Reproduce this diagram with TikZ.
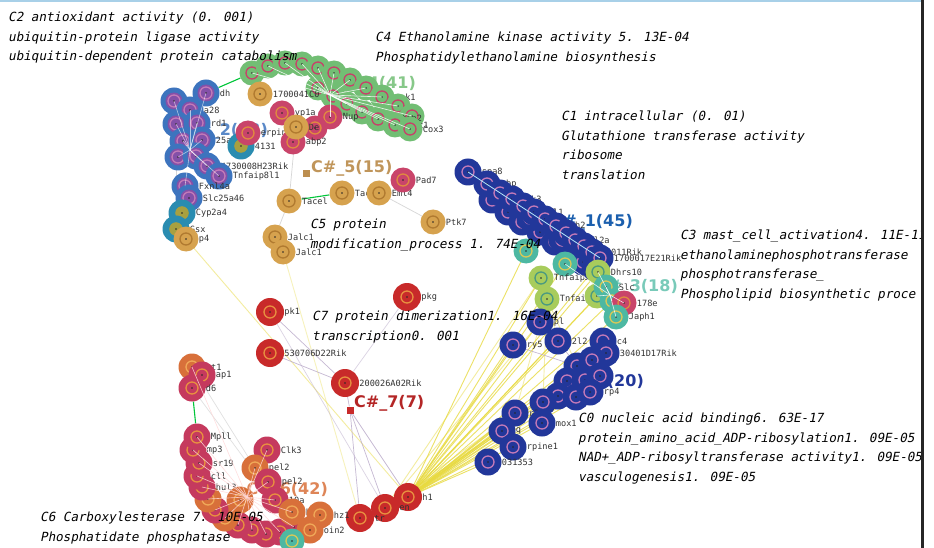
\documentclass[tikz,border=0pt]{standalone}
\usepackage{fontspec}
\setsansfont{DejaVu Sans}
\newfontfamily\annotfont[FakeSlant=0.2]{DejaVu Sans Mono}
\newfontfamily\genefont{DejaVu Sans Mono}

\definecolor{navyA}{HTML}{22379A}
\definecolor{pinkR}{HTML}{C47AB8}
\definecolor{blueB}{HTML}{3D74BE}
\definecolor{purpleB}{HTML}{8450A8}
\definecolor{tealB}{HTML}{2A8CB0}
\definecolor{oliveC}{HTML}{A8A040}
\definecolor{greenG}{HTML}{72BE74}
\definecolor{greenL}{HTML}{9AD09A}
\definecolor{redG}{HTML}{C8406A}
\definecolor{goldO}{HTML}{D6A24E}
\definecolor{goldD}{HTML}{B07A30}
\definecolor{pinkK}{HTML}{C9446A}
\definecolor{orangeO}{HTML}{E08A40}
\definecolor{tealT}{HTML}{4DB8A2}
\definecolor{yellowT}{HTML}{D8C858}
\definecolor{yellowG}{HTML}{A8CC5C}
\definecolor{tealD}{HTML}{4A9A80}
\definecolor{redR}{HTML}{C82A2A}
\definecolor{orangeR}{HTML}{E89040}
\definecolor{magM}{HTML}{C53A5E}
\definecolor{orangeM}{HTML}{D8703A}
\definecolor{goldL}{HTML}{F0A858}
\definecolor{fanY}{HTML}{E8DA40}
\definecolor{topblue}{HTML}{A8D0E8}
\definecolor{linkgray}{HTML}{B8A8C8}

\pgfdeclarelayer{paper}
\pgfdeclarelayer{tags}
\pgfdeclarelayer{links}
\pgfdeclarelayer{front}
\pgfsetlayers{paper,tags,links,main,front}

% gene node with a centred core, a ring and a black dot
\tikzset{
  ringed/.style n args={3}{path picture={
      \fill[#1] (path picture bounding box.center) circle (#3);
      \draw[#2, line width=1.3pt] (path picture bounding box.center) circle (6pt);
      \fill[black!85] (path picture bounding box.center) circle (0.9pt);}},
  gene/.style={circle, inner sep=0pt, minimum size=25pt, label distance=-9pt},
  every label/.style={font=\genefont\fontsize{8.6}{9}\selectfont, text=black!80, inner sep=0pt},
  cA/.style={gene, minimum size=27pt, fill=navyA, ringed={navyA}{pinkR}{0pt}},
  cB/.style={gene, minimum size=27pt, fill=blueB, ringed={purpleB}{pinkR}{8.5pt}},
  cBT/.style={gene, minimum size=27pt, fill=tealB, ringed={oliveC}{oliveC}{6.5pt}},
  cG/.style={gene, fill=greenG, ringed={greenL}{redG}{0pt}},
  cO/.style={gene, fill=goldO, ringed={goldO}{goldD}{0pt}},
  cPk/.style={gene, fill=pinkK, ringed={pinkK}{orangeO}{0pt}},
  cT/.style={gene, fill=tealT, ringed={tealT}{yellowT}{0pt}},
  cY/.style={gene, fill=yellowG, ringed={yellowG}{tealD}{0pt}},
  cR/.style={gene, minimum size=28pt, fill=redR, ringed={redR}{orangeR}{0pt}},
  cM/.style={gene, minimum size=27pt, fill=magM, ringed={magM}{orangeR}{0pt}},
  cMO/.style={gene, minimum size=27pt, fill=orangeM, ringed={orangeM}{goldL}{0pt}},
  ctag/.style={font=\sffamily\bfseries\fontsize{16}{16}\selectfont, inner sep=0pt},
  sqmark/.style={rectangle, minimum size=7pt, inner sep=0pt},
  annot/.style={font=\annotfont\fontsize{12.6}{19.5}\selectfont, align=left,
                anchor=north west, inner sep=0pt, text=black},
  fan/.style={fanY, line width=0.9pt, opacity=0.8},
  thin/.style={linkgray, line width=0.7pt, opacity=0.8},
  greenlink/.style={green!55!teal, line width=1.1pt},
  spoke/.style={white, line width=0.6pt, opacity=0.85},
}

\newcommand\gn[3]{\node[#1] (#2) at (#3) {};}
\newcommand\gl[4]{\node[#1, label={0:#4}] (#2) at (#3) {};}

\begin{document}
\begin{tikzpicture}[x=1pt, y=-1pt]
\useasboundingbox (0,0) rectangle (934,548);
\begin{pgfonlayer}{paper}
\fill[white] (0,0) rectangle (934,548);
\fill[topblue] (0,0) rectangle (934,2);
\end{pgfonlayer}

% ---------- cluster tags (behind the genes) ----------
\begin{pgfonlayer}{tags}
\node[ctag, text=blueB!85!white, anchor=east] (tag2) at (268,131) {C\#\_2(23)};
\node[ctag, text=greenG!85!white, anchor=east] (tag4) at (416,84) {C\#\_4(41)};
\node[ctag, text=goldD!80!white, anchor=west] (tag5) at (311,168) {C\#\_5(15)};
\node[ctag, text=navyA!80!cyan, anchor=east] (tag1) at (633,222) {C\#\_1(45)};
\node[ctag, text=tealT!75!white, anchor=east] (tag3) at (678,287) {C\#\_3(18)};
\node[ctag, text=navyA, anchor=east] (tag0) at (644,382) {C\#\_0(20)};
\node[ctag, text=redR!90!black, anchor=west] (tag7) at (354,403) {C\#\_7(7)};
\node[ctag, text=orangeM!85!white, anchor=east] (tag6) at (328,490) {C\#\_6(42)};
\end{pgfonlayer}

% ---------- C2 ----------
\gn{cB}{b1}{174,101}
\gl{cB}{b2}{206,93}{dh}
\gl{cB}{b3}{190,110}{a28}
\gn{cB}{b4}{176,124}
\gl{cB}{b5}{197,123}{rd1}
\gn{cB}{b6}{183,141}
\gl{cB}{b7}{202,140}{25a4c}
\gn{cB}{b8}{178,157}
\gn{cB}{b9}{196,156}
\gl{cB}{b10}{207,166}{4730008H23Rik}
\gl{cB}{b11}{219,176}{Tnfaip8l1}
\gl{cBT}{b12}{241,146}{4131}
\gl{cB}{b13}{185,186}{Fxnl4a}
\gl{cB}{b14}{189,198}{Slc25a46}
\gl{cBT}{b15}{182,213}{Cyp2a4}
\gl{cBT}{b16}{176,229}{Gsx}
\gl{cO}{b17}{186,239}{p4}

% ---------- C4 ----------
\gn{cG}{g1}{252,73}
\gn{cG}{g2}{268,66}
\gn{cG}{g3}{285,63}
\gn{cG}{g4}{302,64}
\gn{cG}{g5}{318,68}
\gn{cG}{g6}{334,73}
\gn{cG}{g7}{350,80}
\gn{cG}{g8}{366,88}
\gl{cG}{g9}{382,97}{ank1}
\gn{cG}{g10}{398,106}
\gn{cG}{g11}{412,116}
\gn{cG}{g12}{318,88}
\gn{cG}{g13}{333,96}
\gn{cG}{g14}{347,104}
\gn{cG}{g15}{362,112}
\gl{cG}{g16}{378,119}{Tatip2}
\gl{cG}{g17}{395,125}{Dbc1}
\gl{cG}{g18}{410,129}{Cox3}
\gl{cPk}{g19}{330,117}{Nup}
\gn{cPk}{g20}{315,128}
\gl{cPk}{g21}{248,133}{erpina6}
\gl{cPk}{g22}{282,113}{yp1a}
\gl{cPk}{g23}{293,142}{abp2}

% ---------- C5 ----------
\gl{cO}{o1}{260,94}{1700041C0}
\gl{cO}{o2}{296,127}{De}
\gl{cO}{o3}{289,201}{Tacel}
\gl{cO}{o4}{342,193}{Tacel}
\gl{cO}{o5}{379,193}{Eml4}
\gl{cPk}{o6}{403,180}{Pad7}
\gl{cO}{o7}{433,222}{Ptk7}
\gl{cO}{o8}{275,237}{Jalc1}
\gl{cO}{o9}{283,252}{Jalc1}
\node[sqmark, fill=goldD!85!white] (sq5) at (306,174) {};

% ---------- C1 ----------
\gn{cA}{a14}{508,212}
\gn{cA}{a15}{522,222}
\gn{cA}{a16}{540,232}
\gn{cA}{a17}{555,242}
\gn{cA}{a18}{570,252}
\gn{cA}{a19}{583,262}
\gn{cA}{a20}{595,268}
\gn{cA}{a21}{492,200}
\gn{cA}{a22}{530,218}
\gn{cA}{a23}{562,240}
\gl{cA}{a1}{468,172}{spa8}
\gl{cA}{a2}{487,184}{gbp}
\gn{cA}{a3}{500,193}
\gl{cA}{a4}{512,199}{kk3}
\gn{cA}{a5}{523,206}
\gl{cA}{a6}{534,212}{hl1}
\gn{cA}{a7}{545,219}
\gl{cA}{a8}{556,226}{ph2}
\gn{cA}{a9}{566,233}
\gl{cA}{a10}{575,240}{al2a}
\gn{cA}{a11}{584,246}
\gl{cA}{a12}{592,252}{0011Rik}
\gl{cA}{a13}{600,258}{1700017E21Rik}

% ---------- C3 ----------
\gn{cT}{t1}{526,251}
\gn{cT}{t2}{565,264}
\gl{cY}{y1}{541,278}{Tnfaip2}
\gl{cY}{y2}{547,299}{Tnfaip2}
\gl{cY}{t3}{598,272}{Dhrs10}
\gn{cY}{y3}{597,296}
\gl{cT}{t4}{606,287}{Slc}
\gn{cT}{t5}{612,301}
\gl{cPk}{t7}{624,303}{178e}
\gl{cT}{t6}{616,317}{Japh1}

% ---------- C0 ----------
\gl{cA}{n1}{540,322}{pl}
\gl{cA}{n2}{513,345}{ry5}
\gl{cA}{n3}{558,341}{2l2}
\gl{cA}{n4}{603,341}{c4}
\gl{cA}{n5}{606,353}{30401D17Rik}
\gn{cA}{n6}{577,366}
\gn{cA}{n7}{592,360}
\gn{cA}{n8}{567,381}
\gn{cA}{n9}{585,380}
\gn{cA}{n10}{600,376}
\gn{cA}{n11}{558,396}
\gn{cA}{n12}{543,402}
\gn{cA}{n13}{576,397}
\gl{cA}{n14}{590,392}{rp4}
\gl{cA}{n15}{515,413}{r3}
\gl{cA}{n16}{542,423}{mox1}
\gl{cA}{n17}{502,431}{q}
\gl{cA}{n18}{513,447}{rpine1}
\gl{cA}{n19}{488,462}{031353}

% ---------- C7 ----------
\gl{cR}{r1}{270,312}{pk1}
\gl{cR}{r2}{407,297}{pkg}
\gl{cR}{r3}{270,353}{530706D22Rik}
\gl{cR}{r4}{345,383}{200026A02Rik}
\node[sqmark, fill=redR] (sq7) at (350,410) {};
\gl{cR}{r5}{408,497}{h1}
\gl{cR}{r6}{385,508}{en}
\gl{cR}{r7}{360,518}{tr}

% ---------- C6 ----------
\gl{cMO}{m1}{192,367}{ot1}
\gl{cM}{m2}{202,375}{ap1}
\gl{cM}{m3}{192,388}{d6}
\gn{cM}{m16}{294,527}
\gn{cM}{m15}{280,532}
\gn{cM}{m14}{266,534}
\gn{cM}{m13}{252,530}
\gn{cM}{m12}{238,525}
\gn{cMO}{m11}{225,518}
\gn{cM}{m10}{215,510}
\gn{cMO}{m9}{208,499}
\gl{cM}{m8}{202,487}{hul3}
\gl{cM}{m7}{197,476}{cll}
\gl{cM}{m6}{199,463}{sr19}
\gl{cM}{m5}{193,450}{mp3}
\gl{cM}{m4}{197,437}{Mpll}
\gl{cM}{m17}{267,450}{Clk3}
\gl{cMO}{m18}{255,468}{pel2}
\gl{cM}{m19}{268,482}{pel2}
\gn{cMO}{m24}{240,500}
\gl{cM}{m20}{275,500}{10a}
\gl{cMO}{m25}{292,512}{hr3}
\gl{cMO}{m21}{320,515}{hz1}
\gl{cMO}{m22}{310,530}{oin2}
\gn{cT}{m23}{292,541}

% ---------- links ----------
\begin{pgfonlayer}{links}
\foreach \x in {n1,n2,n3,n4,n5,n6,n7,n8,n9,n10,n11,n12,n13,n14,n15,n16,n17,n18,n19,t1,t2,y1,y2,y3,t3,t4,t5,t6,a20}
  \draw[fan] (r5.center) -- (\x.center);
\foreach \x in {n12,n15,n17,y1,n1}
  \draw[fan, opacity=0.5] (r6.center) -- (\x.center);
\foreach \x in {n1,n3,n6,n15,n16}
  \draw[fan, opacity=0.45] (y2.center) -- (\x.center);
\draw[fan, opacity=0.5] (b17.center) -- (r5.center);
\draw[fan, opacity=0.35] (o9.center) -- (r7.center);
\draw[thin] (r1) -- (r4);
\draw[thin] (r3) -- (r4);
\draw[thin, opacity=0.5] (r2) -- (r4);
\draw[thin] (r4) -- (sq7);
\draw[thin] (sq7) -- (r5);
\draw[thin] (sq7) -- (r6);
\draw[thin] (sq7) -- (r7);
\draw[thin, opacity=0.5] (r1) -- (r6);
\draw[thin] (n2) -- (n6);
\draw[thin] (n3) -- (n6);
\draw[thin, black!20] (o8) -- (o3);
\draw[thin, black!20] (o3) -- (o2);
\draw[thin, black!20] (o5) -- (o7);
\draw[thin, black!20] (b4) -- (b16);
\draw[thin, black!15] (m1) -- (m20);
\draw[thin, black!15] (m3) -- (m20);
\draw[greenlink] (b2) -- (g1);
\draw[greenlink] (o3) -- (o4);
\draw[greenlink] (m3) -- (m4);
\end{pgfonlayer}

% ---------- cluster hubs ----------
\begin{pgfonlayer}{front}
\coordinate (hub4) at (330,95);
\foreach \x in {g1,g2,g3,g4,g5,g6,g7,g8,g9,g10,g11,g12,g13,g14,g15,g16,g17,g18,g19}
  \draw[spoke] (hub4) -- (\x.center);
\coordinate (hub6) at (247,497);
\foreach \x in {m4,m5,m6,m7,m8,m9,m10,m11,m12,m13,m14,m15,m16,m17,m18,m19,m20,m25,m1}
  \draw[spoke, pink!60!white] (hub6) -- (\x.center);
\coordinate (hub3) at (610,295);
\foreach \x in {t3,t4,t5,t6,t7,y3,t2}
  \draw[spoke] (hub3) -- (\x.center);
\coordinate (hub2) at (190,150);
\foreach \x in {b1,b2,b3,b4,b5,b6,b7,b8,b9,b10,b11,b13}
  \draw[spoke, opacity=0.6] (hub2) -- (\x.center);
\draw[cyan!30!white, line width=0.8pt] (a1.center) -- (a13.center);

% ---------- annotations ----------
\node[annot] (noteC2) at (8,12) {C2 antioxidant activity (0. 001)\\ubiquitin-protein ligase activity\\ubiquitin-dependent protein catabolism};
\node[annot] (noteC4) at (375,32) {C4 Ethanolamine kinase activity 5. 13E-04\\Phosphatidylethanolamine biosynthesis};
\node[annot] (noteC1) at (561,111) {C1 intracellular (0. 01)\\Glutathione transferase activity\\ribosome\\translation};
\node[annot] (noteC5) at (310,219) {C5 protein\\modification\_process 1. 74E-04};
\node[annot] (noteC3) at (680,230) {C3 mast\_cell\_activation4. 11E-11\\ethanolaminephosphotransferase\\phosphotransferase\_\\Phospholipid biosynthetic proce};
\node[annot] (noteC7) at (312,311) {C7 protein dimerization1. 16E-04\\transcription0. 001};
\node[annot] (noteC0) at (578,413) {C0 nucleic acid binding6. 63E-17\\protein\_amino\_acid\_ADP-ribosylation1. 09E-05\\NAD+\_ADP-ribosyltransferase activity1. 09E-05\\vasculogenesis1. 09E-05};
\node[annot] (noteC6) at (40,512) {C6 Carboxylesterase 7. 10E-05\\Phosphatidate phosphatase};

% frame edge on the right
\fill[white] (924,0) rectangle (934,548);
\fill[black!85] (921,0) rectangle (924,548);
\end{pgfonlayer}
\end{tikzpicture}
\end{document}
